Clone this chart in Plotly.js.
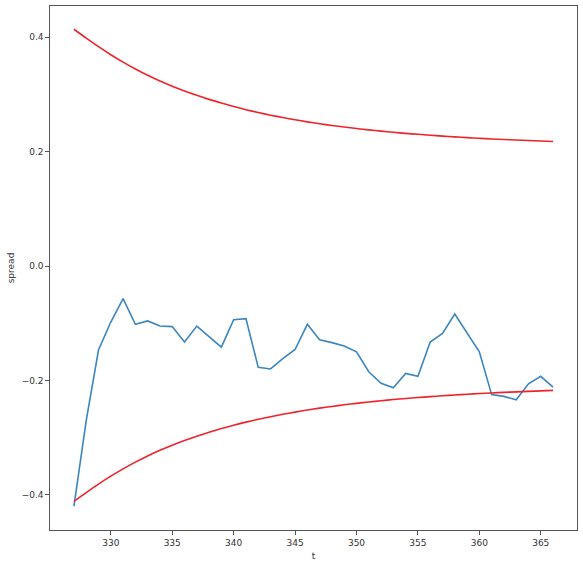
<!DOCTYPE html>
<html>
<head>
<meta charset="utf-8">
<script src="https://cdn.plot.ly/plotly-3.0.1.min.js"></script>
<style>
  html, body { margin: 0; padding: 0; background: #fff; }
  #chart { width: 583px; height: 566px; }
</style>
</head>
<body>
<div id="chart"></div>
<script>
// time steps
var t = [327, 328, 329, 330, 331, 332, 333, 334, 335, 336,
         337, 338, 339, 340, 341, 342, 343, 344, 345, 346,
         347, 348, 349, 350, 351, 352, 353, 354, 355, 356,
         357, 358, 359, 360, 361, 362, 363, 364, 365, 366];

// observed spread (blue)
var spread = [-0.420, -0.270, -0.147, -0.098, -0.057, -0.102, -0.096, -0.105, -0.106, -0.133,
              -0.105, -0.123, -0.142, -0.094, -0.092, -0.177, -0.180, -0.162, -0.146, -0.102,
              -0.129, -0.134, -0.140, -0.150, -0.185, -0.205, -0.213, -0.188, -0.193, -0.133,
              -0.118, -0.084, -0.118, -0.150, -0.225, -0.228, -0.234, -0.206, -0.193, -0.212];

// upper and lower bands (red)
var upper = [0.4140, 0.3985, 0.3835, 0.3695, 0.3565, 0.3445, 0.3335, 0.3235, 0.3145, 0.3062,
             0.2985, 0.2914, 0.2849, 0.2789, 0.2734, 0.2684, 0.2638, 0.2596, 0.2557, 0.2521,
             0.2488, 0.2458, 0.2430, 0.2404, 0.2380, 0.2358, 0.2338, 0.2320, 0.2303, 0.2287,
             0.2272, 0.2258, 0.2245, 0.2233, 0.2222, 0.2212, 0.2203, 0.2194, 0.2186, 0.2178];
var lower = [-0.4115, -0.3962, -0.3814, -0.3676, -0.3548, -0.3430, -0.3322, -0.3224, -0.3135, -0.3053,
             -0.2977, -0.2907, -0.2843, -0.2784, -0.2730, -0.2681, -0.2635, -0.2594, -0.2555, -0.2519,
             -0.2486, -0.2456, -0.2428, -0.2402, -0.2378, -0.2356, -0.2336, -0.2318, -0.2301, -0.2285,
             -0.2270, -0.2256, -0.2243, -0.2231, -0.2220, -0.2210, -0.2201, -0.2192, -0.2184, -0.2176];

var xTicks = [330, 335, 340, 345, 350, 355, 360, 365];
var yTicks = [-0.4, -0.2, 0.0, 0.2, 0.4];

var data = [
  { x: t, y: spread, type: 'scatter', mode: 'lines',
    line: { color: '#3a86c0', width: 1.6 }, hoverinfo: 'skip' },
  { x: t, y: upper, type: 'scatter', mode: 'lines',
    line: { color: '#f0222a', width: 1.6, shape: 'spline', smoothing: 0.8 }, hoverinfo: 'skip' },
  { x: t, y: lower, type: 'scatter', mode: 'lines',
    line: { color: '#f0222a', width: 1.6, shape: 'spline', smoothing: 0.8 }, hoverinfo: 'skip' }
];

var axisStyle = {
  showline: true, mirror: true, linecolor: '#555', linewidth: 1.2,
  ticks: 'outside', ticklen: 3.5, tickcolor: '#555', tickwidth: 1,
  showgrid: false, zeroline: false,
  tickfont: { family: 'DejaVu Sans', size: 9, color: '#333' }
};

var layout = {
  width: 583, height: 566,
  margin: { l: 50, r: 6, t: 6, b: 36 },
  paper_bgcolor: '#fff', plot_bgcolor: '#fff',
  showlegend: false,
  xaxis: Object.assign({}, axisStyle, {
    range: [325.05, 367.95], tickvals: xTicks, ticktext: xTicks.map(String),
    title: { text: 't', font: { family: 'DejaVu Sans', size: 9, color: '#333' }, standoff: 6 }
  }),
  yaxis: Object.assign({}, axisStyle, {
    range: [-0.4617, 0.4547], tickvals: yTicks,
    ticktext: yTicks.map(function (v) { return (v < 0 ? '\u2212' : '') + Math.abs(v).toFixed(1); }),
    title: { text: 'spread', font: { family: 'DejaVu Sans', size: 9, color: '#333' }, standoff: 5 }
  })
};

Plotly.newPlot('chart', data, layout, { staticPlot: true });
</script>
</body>
</html>
